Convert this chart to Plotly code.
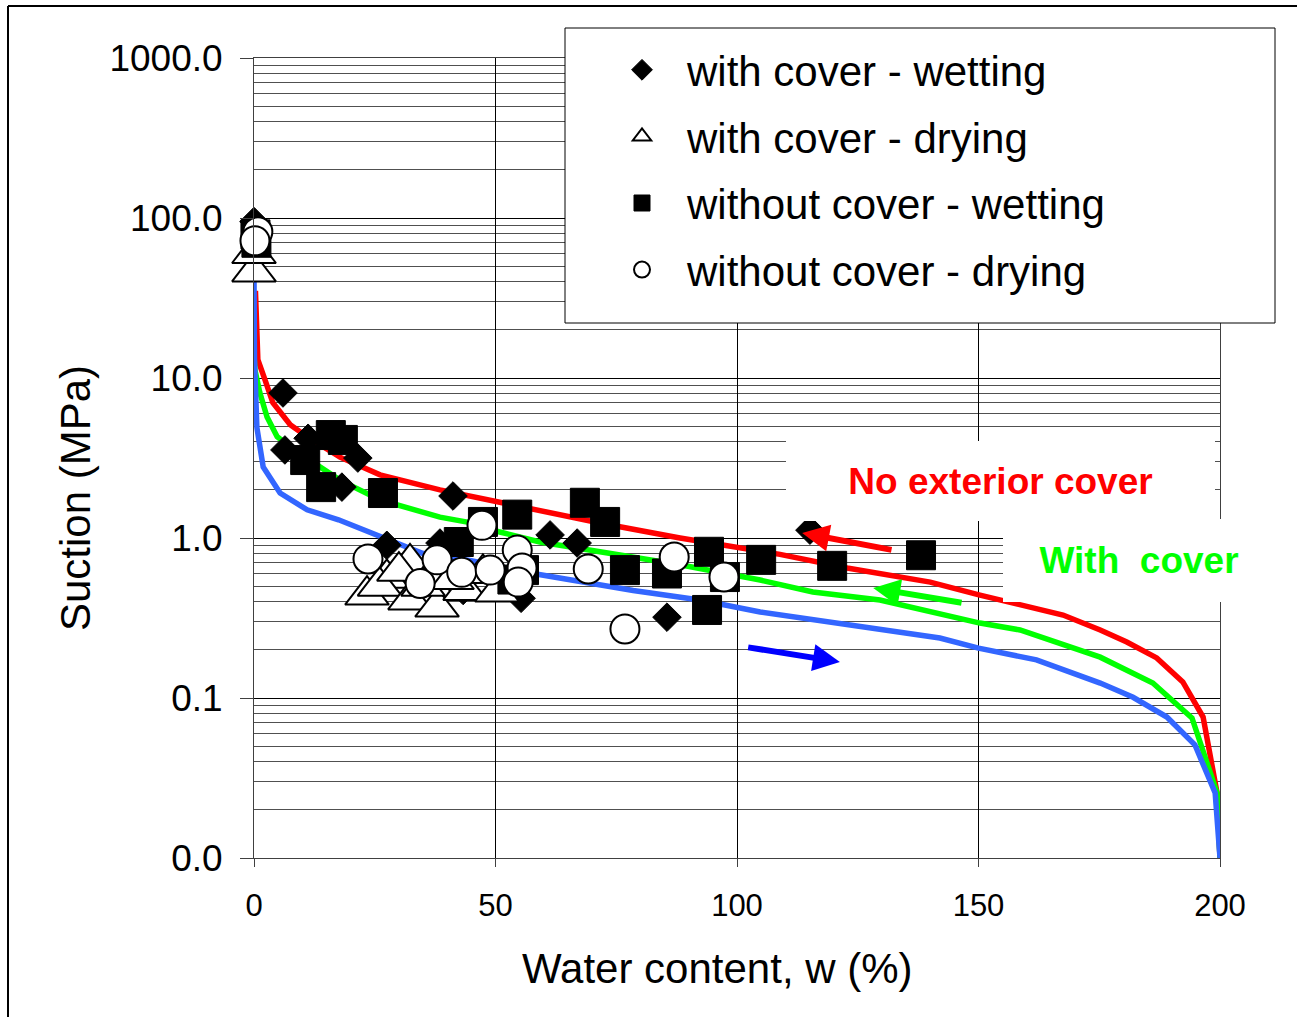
import numpy as np
import plotly.graph_objects as go

# ---------------- data ----------------
red_x = [0.3, 0.8, 2.3, 3.9, 7.5, 11, 17.8, 26.1, 38.5, 50.9, 71.6, 88.2, 104.8, 108.9, 122.8, 140, 150.3, 167.5, 175.2, 180.7, 186.9, 192.3, 196.5, 199.4, 200]
red_y = [35, 13, 9.7, 7.0, 5.1, 4.3, 3.2, 2.48, 2.0, 1.66, 1.24, 1.0, 0.84, 0.79, 0.65, 0.53, 0.44, 0.33, 0.266, 0.224, 0.178, 0.126, 0.076, 0.0255, 0.01]

green_x = [0, 0.2, 1.2, 2.7, 4.8, 8, 12, 17.8, 26.1, 38.5, 45.3, 50.9, 59.2, 79.9, 88.2, 104.8, 115.7, 129.6, 150.3, 158.6, 167, 175.2, 186.1, 194.2, 199.4, 200]
green_y = [14, 11.2, 8.1, 5.7, 4.3, 3.6, 3.0, 2.3, 1.73, 1.35, 1.24, 1.09, 0.944, 0.75, 0.68, 0.546, 0.46, 0.41, 0.294, 0.266, 0.22, 0.18, 0.124, 0.075, 0.0255, 0.01]

blue_x = [0, 0.1, 0.6, 1.9, 5.4, 11, 17.5, 26, 35, 45, 57.8, 78.5, 92.3, 104.8, 129.6, 142, 150, 162, 175.2, 182, 189, 194.8, 199, 200]
blue_y = [45, 13, 4.9, 2.78, 1.91, 1.5, 1.3, 1.03, 0.8, 0.72, 0.6, 0.47, 0.41, 0.345, 0.266, 0.237, 0.205, 0.173, 0.124, 0.101, 0.076, 0.051, 0.0255, 0.01]

cw_x = [0, 6.0, 6.4, 11.2, 21.5, 18.2, 41.2, 27.5, 38.5, 43.3, 61.3, 66.9, 55.3, 85.5, 115.1]
cw_y = [95, 8.06, 3.55, 4.2, 3.16, 2.08, 1.83, 0.9, 0.93, 0.47, 1.045, 0.93, 0.42, 0.32, 1.12]

cd_x = [0, 0, 23.4, 27.5, 26, 32.3, 32.3, 37.9, 35, 43.7, 47.4, 50.3, 30, 41]
cd_y = [46, 60, 0.44, 0.56, 0.5, 0.7, 0.41, 0.37, 0.5, 0.47, 0.6, 0.46, 0.62, 0.55]

nw_x = [0.3, 0.5, 15.9, 18.4, 10.6, 13.9, 26.7, 47.4, 42.4, 54.5, 68.5, 72.7, 76.8, 85.5, 94.2, 97.5, 93.8, 105, 119.7, 138.1, 55.9, 53.5]
nw_y = [79, 70, 4.4, 4.1, 3.07, 2.08, 1.91, 1.26, 0.944, 1.4, 1.66, 1.26, 0.63, 0.6, 0.82, 0.57, 0.355, 0.73, 0.67, 0.78, 0.63, 0.55]

nd_x = [0.8, 0.2, 23.6, 34.4, 37.9, 43, 48.9, 47.2, 54.5, 55.5, 54.7, 69.2, 76.8, 87, 97.3]
nd_y = [82, 72, 0.74, 0.52, 0.73, 0.61, 0.63, 1.2, 0.84, 0.65, 0.53, 0.64, 0.27, 0.76, 0.57]

# arrows: (tail x, tail y, head x, head y)
arrow_red = (132.3, 0.84, 113.5, 1.075)
arrow_green = (146.8, 0.392, 128.2, 0.487)
arrow_blue = (102, 0.208, 121.3, 0.168)

y_tickvals = [0.01, 0.1, 1, 10, 100, 1000]
y_ticktext = ["0.0", "0.1", "1.0", "10.0", "100.0", "1000.0"]
x_tickvals = [0, 50, 100, 150, 200]

# ---------------- figure ----------------
W, H = 1297, 1017
L, R, T, B = 254, 77, 58, 159
PW, PH = W - L - R, H - T - B


def px(xp):
    return (xp - L) / PW


def py(yp):
    return (H - B - yp) / PH


FONT = "Arial, Liberation Sans, sans-serif"

fig = go.Figure()
for xs, ys, col in [(red_x, red_y, "#FF0000"), (green_x, green_y, "#00FF00"), (blue_x, blue_y, "#3366FF")]:
    fig.add_trace(go.Scatter(x=xs, y=ys, mode="lines", line=dict(color=col, width=5.5),
                             showlegend=False, hoverinfo="skip", cliponaxis=False))

fig.add_trace(go.Scatter(x=cw_x, y=cw_y, mode="markers", name="with cover - wetting", legendgroup="a",
                         marker=dict(symbol="diamond", size=22, color="black", line=dict(color="black", width=1)),
                         cliponaxis=False))
fig.add_trace(go.Scatter(x=cd_x, y=cd_y, mode="markers", name="with cover - drying", legendgroup="b",
                         marker=dict(symbol="triangle-up", size=38, color="white", line=dict(color="black", width=2)),
                         cliponaxis=False))
fig.add_trace(go.Scatter(x=nw_x, y=nw_y, mode="markers", name="without cover - wetting", legendgroup="c",
                         marker=dict(symbol="square", size=29, color="black", line=dict(color="black", width=1)),
                         cliponaxis=False))
fig.add_trace(go.Scatter(x=nd_x, y=nd_y, mode="markers", name="without cover - drying", legendgroup="d",
                         marker=dict(symbol="circle", size=29, color="white", line=dict(color="black", width=2)),
                         cliponaxis=False))

annotations = []
for (tx, ty, hx, hy), col in [(arrow_red, "#FF0000"), (arrow_green, "#00FF00"), (arrow_blue, "#0000FF")]:
    annotations.append(dict(x=hx, y=np.log10(hy), ax=tx, ay=np.log10(ty), xref="x", yref="y", axref="x", ayref="y",
                            text="", showarrow=True, arrowhead=2, arrowsize=0.9, arrowwidth=6, arrowcolor=col))

annotations.append(dict(text="<b>No exterior cover</b>", xref="paper", yref="paper",
                        x=px(1000.5), y=py(481), xanchor="center", yanchor="middle", showarrow=False,
                        font=dict(family=FONT, size=37, color="#FF0000"), bgcolor="white",
                        width=429, height=80, borderwidth=0, borderpad=0))
annotations.append(dict(text="<b>With&nbsp; cover</b>", xref="paper", yref="paper",
                        x=px(1139), y=py(560), xanchor="center", yanchor="middle", showarrow=False,
                        font=dict(family=FONT, size=37, color="#00FF00"), bgcolor="white",
                        width=272, height=83, borderwidth=0, borderpad=0))
annotations.append(dict(text="Water content, w (%)", xref="paper", yref="paper", x=px(717), y=py(968),
                        xanchor="center", yanchor="middle", showarrow=False, font=dict(family=FONT, size=42)))
annotations.append(dict(text="Suction (MPa)", xref="paper", yref="paper", x=px(75), y=py(498), textangle=-90,
                        xanchor="center", yanchor="middle", showarrow=False, font=dict(family=FONT, size=42)))

shapes = [
    dict(type="rect", xref="paper", yref="paper", x0=px(565), x1=px(1275), y0=py(323), y1=py(28),
         fillcolor="white", line=dict(color="black", width=1), layer="above"),
    dict(type="line", xref="paper", yref="paper", x0=px(8), x1=px(W + 5), y0=py(6), y1=py(6),
         line=dict(color="black", width=2)),
    dict(type="line", xref="paper", yref="paper", x0=px(8), x1=px(8), y0=py(6), y1=py(H + 5),
         line=dict(color="black", width=2)),
]

minor_vals = [m * 10.0 ** k for k in range(-2, 3) for m in range(2, 10)]

fig.update_layout(
    width=W, height=H, margin=dict(l=L, r=R, t=T, b=B),
    paper_bgcolor="white", plot_bgcolor="white",
    font=dict(family=FONT, color="black"),
    annotations=annotations, shapes=shapes,
    legend=dict(x=px(597), y=py(36), xanchor="left", yanchor="top", bgcolor="rgba(0,0,0,0)",
                borderwidth=0, font=dict(family=FONT, size=42), itemwidth=80,
                tracegroupgap=9, traceorder="grouped"),
    xaxis=dict(range=[0, 200], tickvals=x_tickvals, showgrid=True, gridcolor="#000000", gridwidth=1,
               zeroline=False, showline=True, linecolor="#404040", linewidth=1, mirror=True,
               ticks="outside", ticklen=8, tickcolor="#404040", tickfont=dict(size=31),
               ticklabelstandoff=12),
    yaxis=dict(type="log", range=[-2, 3], tickvals=y_tickvals, ticktext=y_ticktext,
               showgrid=True, gridcolor="#000000", gridwidth=1, zeroline=False,
               showline=True, linecolor="#404040", linewidth=1, mirror=True,
               ticks="outside", ticklen=13, tickcolor="#404040", tickfont=dict(size=37),
               ticklabelstandoff=10,
               minor=dict(tickmode="array", tickvals=minor_vals, showgrid=True, gridcolor="#505050",
                          gridwidth=1, ticks="")),
)

fig.write_html("out.html")
